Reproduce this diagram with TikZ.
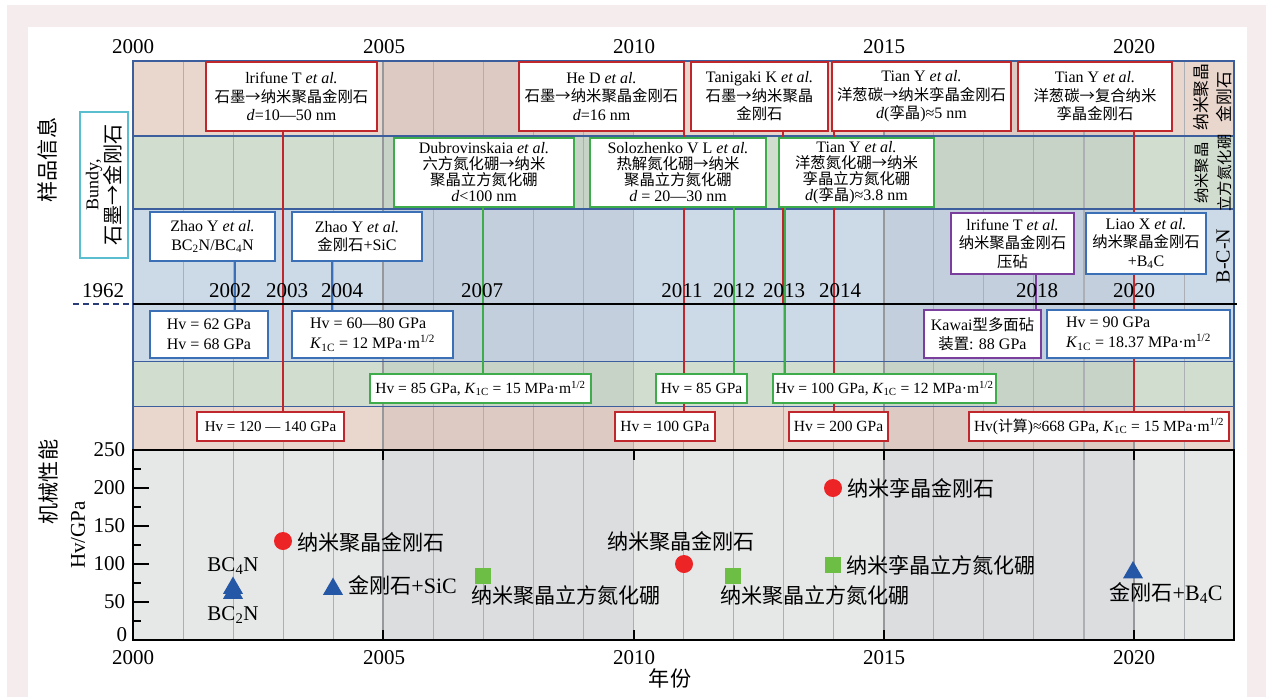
\documentclass[tikz,border=0pt]{standalone}
\usepackage{fontspec}
\setmainfont{Liberation Serif}
\newfontfamily\cjk[Scale=0.96]{Noto Sans CJK SC}
\usetikzlibrary{shapes.geometric}
\newcommand\zh[1]{{\cjk #1}}
\newcommand\Kic{\textit{K}\textsubscript{1C}}
\newcommand\mhalf{MPa·m\textsuperscript{1/2}}
\pgfdeclarelayer{bglayer}
\pgfdeclarelayer{linelayer}
\pgfsetlayers{bglayer,linelayer,main}
\definecolor{framepink}{RGB}{245,236,237}
\definecolor{pinkA}{RGB}{233,214,205}
\definecolor{pinkB}{RGB}{221,202,195}
\definecolor{greenA}{RGB}{209,222,207}
\definecolor{greenB}{RGB}{199,211,199}
\definecolor{blueA}{RGB}{204,217,230}
\definecolor{blueB}{RGB}{195,207,220}
\definecolor{grayA}{RGB}{230,231,231}
\definecolor{grayB}{RGB}{220,221,223}
\definecolor{gridc}{RGB}{172,175,180}
\definecolor{gridd}{RGB}{150,152,156}
\definecolor{bandline}{RGB}{60,94,156}
\definecolor{cred}{RGB}{192,39,45}
\definecolor{cgreen}{RGB}{62,172,74}
\definecolor{cblue}{RGB}{59,111,182}
\definecolor{cpurple}{RGB}{122,62,157}
\definecolor{ccyan}{RGB}{90,190,208}
\definecolor{mred}{RGB}{236,36,38}
\definecolor{mgreen}{RGB}{108,190,69}
\definecolor{mblue}{RGB}{36,87,166}
\definecolor{dashc}{RGB}{40,60,120}
\begin{document}
\begin{tikzpicture}[x=1pt,y=-1pt,
  every node/.style={inner sep=1pt, outer sep=0pt},
  boxbase/.style={draw, fill=white, line width=1.8pt, align=center, font=\fontsize{16}{18.5}\selectfont},
  boxR/.style={boxbase, draw=cred},
  boxG/.style={boxbase, draw=cgreen},
  boxB/.style={boxbase, draw=cblue},
  boxP/.style={boxbase, draw=cpurple},
  fourl/.style={font=\fontsize{16}{16}\selectfont},
  twol/.style={font=\fontsize{16}{20}\selectfont},
  onel/.style={font=\fontsize{15.5}{16}\selectfont},
  cline/.style={draw=#1, line width=1.8pt},
  yr/.style={font=\fontsize{21}{21}\selectfont},
  lab/.style={font=\fontsize{22}{22}\selectfont},
  dotr/.style={circle, fill=mred, minimum size=18, inner sep=0},
  sqg/.style={rectangle, fill=mgreen, minimum size=16, inner sep=0},
  trib/.style={regular polygon, regular polygon sides=3, fill=mblue, minimum size=23, inner sep=0},
]
\useasboundingbox (0,0) rectangle (1266,697);

\begin{pgfonlayer}{bglayer}
\fill[white] (0,0) rectangle (1266,697);
\fill[framepink] (7,5) rectangle (1266,697);
\fill[white] (28,27) rectangle (1247,697);
\foreach \a/\b/\s in {0/5/A,5/10/B,10/15/A,15/20/B,20/22/A} {
  \fill[pink\s] ({133+50.05*\a},61) rectangle ({133+50.05*\b},136);
  \fill[green\s] ({133+50.05*\a},136) rectangle ({133+50.05*\b},209);
  \fill[blue\s] ({133+50.05*\a},209) rectangle ({133+50.05*\b},361);
  \fill[green\s] ({133+50.05*\a},361) rectangle ({133+50.05*\b},406);
  \fill[pink\s] ({133+50.05*\a},406) rectangle ({133+50.05*\b},450);
  \fill[gray\s] ({133+50.05*\a},450) rectangle ({133+50.05*\b},640);
}
\foreach \k in {1,2,3,4,6,7,8,9,10,11,12,13,14,16,17,18,19,21}
  \draw[gridc, line width=1.1pt] ({133+50.05*\k},61) -- ({133+50.05*\k},640);
\foreach \k in {5,15,20}
  \draw[gridd, line width=2.2pt] ({133+50.05*\k},61) -- ({133+50.05*\k},640);
\draw[bandline, line width=1.5pt] (133,61) rectangle (1234,450);
\draw[bandline, line width=1.5pt] (133,136) -- (1234,136);
\draw[bandline, line width=1.5pt] (133,209) -- (1234,209);
\draw[bandline, line width=0.8pt] (133,361) -- (1234,361);
\draw[bandline, line width=0.8pt] (133,406) -- (1234,406);
\end{pgfonlayer}

% timeline
\draw[line width=2pt] (133,304) -- (1237,304);
\draw[dashc, line width=1.5pt, dash pattern=on 6pt off 4pt] (73,304) -- (133,304);
\coordinate (c2002) at (235,304);
\coordinate (c2003) at (283,304);
\coordinate (c2004) at (332,304);
\coordinate (c2007) at (483,304);
\coordinate (c2011) at (684,304);
\coordinate (c2012) at (734,304);
\coordinate (c2013) at (783,304);
\coordinate (c2013g) at (785,304);
\coordinate (c2014) at (834,304);
\coordinate (c2018) at (1036,304);
\coordinate (c2020) at (1134,304);

% top year labels
\foreach \t/\xx in {2000/133,2005/384,2010/634,2015/884,2020/1134}
  \node[yr] at (\xx,47) {\t};
% timeline year labels
\foreach \t/\xx in {1962/103,2002/230,2003/287,2004/342,2007/482,2011/682,2012/734,2013/784,2014/840,2018/1037,2020/1134}
  \node[yr] at (\xx,291) {\t};

% left labels
\node[lab, rotate=90] (ypin) at (47,160) {\zh{样品信息}};
\node[lab, rotate=90] (jixie) at (48,482) {\zh{机械性能}};
\node[yr, rotate=90] (hvgpa) at (78,535) {Hv/GPa};
\node[draw=ccyan, line width=2pt, fill=white, minimum width=48, minimum height=146] (bundy) at (104,185) {};
\node[rotate=90, align=center, font=\fontsize{21}{22}\selectfont] (bundyt) at (bundy.center) {{\fontsize{18}{22}\selectfont Bundy,}\\\zh{石墨→金刚石}};

% right labels
\node[rotate=90, align=center, font=\fontsize{17.5}{23}\selectfont] (rl1) at (1213,97) {\zh{纳米聚晶}\\\zh{金刚石}};
\node[rotate=90, align=center, font=\fontsize{16}{23}\selectfont] (rl2) at (1213,173) {\zh{纳米聚晶}\\\zh{立方氮化硼}};
\node[rotate=90, font=\fontsize{20}{20}\selectfont] (rl3) at (1223,256) {B-C-N};

% top band boxes
\node[boxR, minimum width=171, minimum height=69] (irifune) at (291.5,96.5) {lrifune T \textit{et al.}\\\zh{石墨→纳米聚晶金刚石}\\\textit{d}=10—50 nm};
\node[boxR, minimum width=165, minimum height=69] (hed) at (601.5,96.5) {He D \textit{et al.}\\\zh{石墨→纳米聚晶金刚石}\\\textit{d}=16 nm};
\node[boxR, minimum width=137, minimum height=69] (tanigaki) at (759.5,96.5) {Tanigaki K \textit{et al.}\\\zh{石墨→纳米聚晶}\\\zh{金刚石}};
\node[boxR, minimum width=179, minimum height=69] (tianc) at (921.5,96.5) {Tian Y \textit{et al.}\\\zh{洋葱碳→纳米孪晶金刚石}\\\textit{d}(\zh{孪晶})≈5 nm};
\node[boxR, minimum width=154, minimum height=69] (tianc2) at (1095,96.5) {Tian Y \textit{et al.}\\\zh{洋葱碳→复合纳米}\\\zh{孪晶金刚石}};

% green band boxes
\node[boxG, fourl, minimum width=180, minimum height=69] (dubro) at (484,172.5) {Dubrovinskaia \textit{et al.}\\\zh{六方氮化硼→纳米}\\\zh{聚晶立方氮化硼}\\\textit{d}<100 nm};
\node[boxG, fourl, minimum width=176, minimum height=69] (solo) at (678,172.5) {Solozhenko V L \textit{et al.}\\\zh{热解氮化硼→纳米}\\\zh{聚晶立方氮化硼}\\\textit{d} = 20—30 nm};
\node[boxG, fourl, minimum width=155, minimum height=69] (tianbn) at (856.5,172.5) {Tian Y \textit{et al.}\\\zh{洋葱氮化硼→纳米}\\\zh{孪晶立方氮化硼}\\\textit{d}(\zh{孪晶})≈3.8 nm};

% blue band boxes
\node[boxB, minimum width=125, minimum height=49] (zhao1) at (212.5,236.5) {Zhao Y \textit{et al.}\\BC\textsubscript{2}N/BC\textsubscript{4}N};
\node[boxB, minimum width=130, minimum height=49] (zhao2) at (357,236.5) {Zhao Y \textit{et al.}\\\zh{金刚石}+SiC};
\node[boxP, minimum width=123, minimum height=61] (irifune2) at (1012.5,243.5) {lrifune T \textit{et al.}\\\zh{纳米聚晶金刚石}\\\zh{压砧}};
\node[boxB, minimum width=120, minimum height=61] (liao) at (1146,243.5) {Liao X \textit{et al.}\\\zh{纳米聚晶金刚石}\\+B\textsubscript{4}C};

\node[boxB, twol, minimum width=118, minimum height=47] (hv62) at (209,334.5) {Hv = 62 GPa\\Hv = 68 GPa};
\node[boxB, twol, align=left, minimum width=161, minimum height=47] (hv6080) at (372.5,334.5) {Hv = 60—80 GPa\\\Kic{} = 12 \mhalf};
\node[boxP, minimum width=117, minimum height=48] (kawai) at (982.5,334) {Kawai\zh{型多面砧}\\\zh{装置}: 88 GPa};
\node[boxB, twol, align=left, minimum width=183, minimum height=48] (hv90) at (1138.5,334) {Hv = 90 GPa\\\Kic{} = 18.37 \mhalf};

% lower green band boxes
\node[boxG, onel, minimum width=221, minimum height=29] (hv85a) at (480.5,388.5) {Hv = 85 GPa, \Kic{} = 15 \mhalf};
\node[boxG, onel, minimum width=91, minimum height=29] (hv85b) at (701.5,388.5) {Hv = 85 GPa};
\node[boxG, onel, minimum width=223, minimum height=29] (hv100b) at (884.5,388.5) {Hv = 100 GPa, \Kic{} = 12 \mhalf};

% lower pink band boxes
\node[boxR, font=\fontsize{15}{16}\selectfont, minimum width=147, minimum height=29] (hv120) at (270.5,426.5) {Hv = 120 — 140 GPa};
\node[boxR, onel, minimum width=100, minimum height=29] (hv100) at (665,426.5) {Hv = 100 GPa};
\node[boxR, onel, minimum width=99, minimum height=29] (hv200) at (838.5,426.5) {Hv = 200 GPa};
\node[boxR, onel, minimum width=260, minimum height=29] (hv668) at (1099,426.5) {Hv(\zh{计算})≈668 GPa, \Kic{} = 15 \mhalf};

% connectors
\begin{pgfonlayer}{linelayer}
\draw[cline=cred] (irifune.south -| c2003) -- (hv120.north -| c2003);
\draw[cline=cred] (hed.south -| c2011) -- (hv100.north -| c2011);
\draw[cline=cred] (tanigaki.south -| c2013) -- (c2013);
\draw[cline=cred] (tianc.south -| c2014) -- (hv200.north -| c2014);
\draw[cline=cred] (tianc2.south -| c2020) -- (hv668.north -| c2020);
\draw[cline=cgreen] (dubro.south -| c2007) -- (hv85a.north -| c2007);
\draw[cline=cgreen] (solo.south -| c2012) -- (hv85b.north -| c2012);
\draw[cline=cgreen] (tianbn.south -| c2013g) -- (hv100b.north -| c2013g);
\draw[cline=cblue] (zhao1.south -| c2002) -- (hv62.north -| c2002);
\draw[cline=cblue] (zhao2.south -| c2004) -- (hv6080.north -| c2004);
\draw[cline=cpurple] (irifune2.south -| c2018) -- (kawai.north -| c2018);
\end{pgfonlayer}

% plot frame and ticks
\draw[line width=2pt] (133,450) rectangle (1234,640);
\foreach \v in {50,100,150,200}
  \draw[line width=2pt] (133,{640-0.76*\v}) -- ++(16,0);
\foreach \v in {25,75,125,175,225}
  \draw[line width=2pt] (133,{640-0.76*\v}) -- ++(8,0);
\foreach \k in {5,10,15,20} {
  \draw[line width=2pt] ({133+50.05*\k},450) -- ++(0,10);
  \draw[line width=2pt] ({133+50.05*\k},640) -- ++(0,-10);
}
\foreach \v in {50,100,150,200,250}
  \node[yr, anchor=east] at (126,{640-0.76*\v}) {\v};
\node[yr, anchor=east, inner sep=0pt] (yzero) at (127,635) {0};
\foreach \t/\xx in {2000/133,2005/384,2010/634,2015/884,2020/1134}
  \node[yr, inner sep=0pt] at (\xx,658) {\t};
\node[lab] (nianfen) at (670,678) {\zh{年份}};

% data markers
\node[dotr] (m2003) at (283,541) {};
\node[dotr] (m2011) at (684,564) {};
\node[dotr] (m2014) at (833,488) {};
\node[sqg] (m2007) at (483,576) {};
\node[sqg] (m2012) at (733,576) {};
\node[sqg] (m2014b) at (833,565) {};
\node[trib] (m2002a) at (233,593) {};
\node[trib] (m2002b) at (233,588) {};
\node[trib] (m2004) at (333,589) {};
\node[trib] (m2020) at (1133,572.5) {};

\node[lab, anchor=west] (l2003) at (296,542) {\zh{纳米聚晶金刚石}};
\node[lab] (l2011) at (681,541) {\zh{纳米聚晶金刚石}};
\node[lab, anchor=west] (l2014) at (846,488) {\zh{纳米孪晶金刚石}};
\node[lab, anchor=west] (l2007) at (470,596) {\zh{纳米聚晶立方氮化硼}};
\node[lab, anchor=west] (l2012) at (719,596) {\zh{纳米聚晶立方氮化硼}};
\node[lab, anchor=west] (l2014b) at (845,565) {\zh{纳米孪晶立方氮化硼}};
\node[lab, anchor=west] (l2004) at (347,585) {\zh{金刚石}+SiC};
\node[lab] (l2020) at (1166,593) {\zh{金刚石}+B\textsubscript{4}C};
\node[yr] (lbc4) at (233,566) {BC\textsubscript{4}N};
\node[yr] (lbc2) at (233,615) {BC\textsubscript{2}N};
\end{tikzpicture}
\end{document}
